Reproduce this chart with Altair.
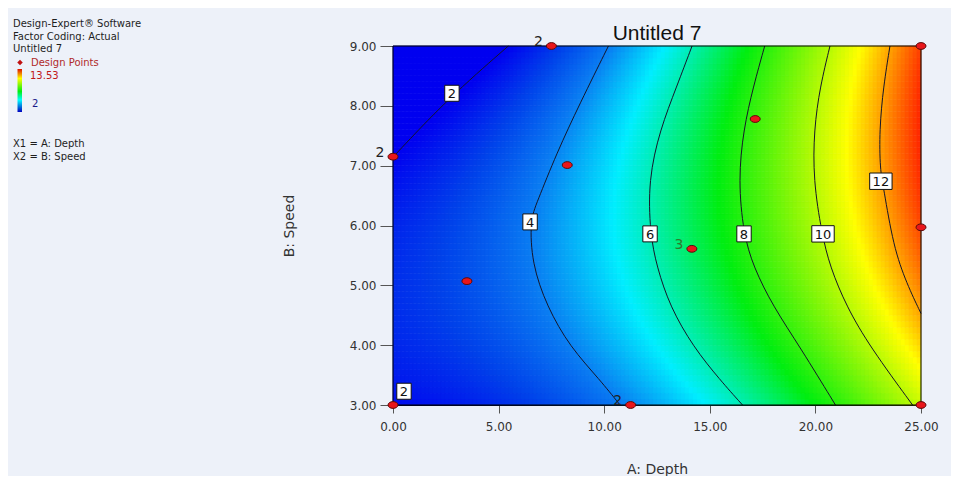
import numpy as np
import pandas as pd
import altair as alt

alt.data_transformers.disable_max_rows()

# ---------------- data ----------------
x_ticks = [0, 5, 10, 15, 20, 25]
y_ticks = [3, 4, 5, 6, 7, 8, 9]

# contour traces (A: Depth, B: Speed) for each contour level
c2_x = [0.02, 2.54, 5.46]
c2_y = [7.15, 8.10, 9.0]
c4_x = [10.2, 8.85, 7.75, 6.8, 6.49, 6.57, 7.28, 8.38, 9.80, 10.75]
c4_y = [9.0, 8.04, 7.21, 6.37, 6.09, 5.37, 4.65, 3.97, 3.42, 3.0]
c6_x = [14.16, 13.43, 12.64, 12.09, 12.17, 12.49, 13.12, 14.22, 15.48, 16.55]
c6_y = [9.0, 8.32, 7.6, 6.76, 5.87, 5.31, 4.64, 3.97, 3.42, 3.0]
c8_x = [17.6, 17.06, 16.59, 16.35, 16.59, 17.06, 18.01, 19.27, 20.95]
c8_y = [9.0, 8.32, 7.6, 6.76, 5.87, 5.31, 4.64, 3.97, 3.0]
c10_x = [20.69, 20.22, 19.93, 19.9, 20.3, 20.69, 21.48, 22.59, 24.6]
c10_y = [9.0, 8.32, 7.6, 6.76, 5.87, 5.31, 4.64, 3.97, 3.0]
c12_x = [23.53, 23.22, 23.03, 23.06, 23.22, 23.69, 24.32, 25.0]
c12_y = [9.0, 8.32, 7.6, 6.93, 6.65, 5.65, 5.03, 4.53]
contour_levels = [2, 4, 6, 8, 10, 12]
contour_x = [c2_x, c4_x, c6_x, c8_x, c10_x, c12_x]
contour_y = [c2_y, c4_y, c6_y, c8_y, c10_y, c12_y]

# contour label boxes
lab_x = [2.79, 0.52, 6.49, 12.17, 16.62, 20.36, 23.1]
lab_y = [8.21, 3.23, 6.06, 5.86, 5.86, 5.86, 6.74]
lab_t = ["2", "2", "4", "6", "8", "10", "12"]

# design points and replicate counts
dp_x = [0.0, 0.0, 7.5, 3.5, 8.25, 11.25, 14.15, 17.15, 25.0, 25.0, 25.0]
dp_y = [3.0, 7.15, 9.0, 5.07, 7.01, 3.0, 5.61, 7.78, 9.0, 5.97, 3.0]
dp_rep = ["", "2", "2", "", "", "2", "3", "", "", "", ""]

resp_min = 2.0
resp_max = 13.53

# ---------------- surface for the colour fill ----------------
px_, py_, pv_ = [], [], []
for lv, xs_, ys_ in zip(contour_levels, contour_x, contour_y):
    px_ += xs_
    py_ += ys_
    pv_ += [lv] * len(xs_)
px_ = np.array(px_); py_ = np.array(py_); pv_ = np.array(pv_, float)


def terms(x, y):
    u = (x - 12.5) / 12.5
    w = (y - 6.0) / 3.0
    return np.stack([np.ones_like(u), u, w, u * u, u * w, w * w,
                     u ** 3, u * u * w, u * w * w, w ** 3], axis=-1)


coef, *_ = np.linalg.lstsq(terms(px_, py_), pv_, rcond=None)

nx, ny = 132, 60
xe = np.linspace(0, 25, nx + 1)
ye = np.linspace(3, 9, ny + 1)
xc = (xe[:-1] + xe[1:]) / 2
yc = (ye[:-1] + ye[1:]) / 2
GX, GY = np.meshgrid(xc, yc)
GV = terms(GX, GY) @ coef
X0, Y0 = np.meshgrid(xe[:-1], ye[:-1])
X1, Y1 = np.meshgrid(xe[1:], ye[1:])
grid = pd.DataFrame({"x0": X0.ravel(), "x1": X1.ravel(), "y0": Y0.ravel(),
                     "y1": Y1.ravel(), "v": GV.ravel()})

lines = pd.DataFrame({
    "x": sum(contour_x, []),
    "y": sum(contour_y, []),
    "level": sum([[lv] * len(a) for lv, a in zip(contour_levels, contour_x)], []),
    "ord": sum([list(range(len(a))) for a in contour_x], []),
})
labels = pd.DataFrame({"x": lab_x, "y": lab_y, "t": lab_t})
labels["w"] = labels["t"].str.len()
points = pd.DataFrame({"x": dp_x, "y": dp_y, "rep": dp_rep})
frame = pd.DataFrame({"x0": [x_ticks[0]], "x1": [x_ticks[-1]],
                      "y0": [y_ticks[0]], "y1": [y_ticks[-1]]})
one = pd.DataFrame({"a": [0]})

# ---------------- styling ----------------
PLOT_LEFT, PLOT_TOP = 393, 46
W, H = 528, 359
SMALL = "DejaVu Sans"
ARIAL = "Liberation Sans"
BG = "#edf1f9"

xs = alt.Scale(domain=[0, 25], nice=False, zero=False)
ys = alt.Scale(domain=[3, 9], nice=False, zero=False)
xaxis = alt.Axis(values=x_ticks, format=".2f", title="A: Depth", tickSize=8,
                 labelPadding=8, labelFlush=False, titleX=W / 2, titleY=64,
                 titleBaseline="middle", titleFontSize=14, titleFontWeight="normal",
                 titleColor="#333", titleFont=SMALL)
yaxis = alt.Axis(values=y_ticks, format=".2f", title="B: Speed", tickSize=13,
                 labelPadding=4, labelFlush=False, titleX=-104, titleY=H / 2,
                 titleBaseline="middle", titleAngle=-90, titleFontSize=14,
                 titleFontWeight="normal", titleColor="#333", titleFont=SMALL)


def X(f):
    return alt.X(f, type="quantitative", scale=xs, axis=xaxis)


def Y(f):
    return alt.Y(f, type="quantitative", scale=ys, axis=yaxis)


cscale = alt.Scale(domain=[2.0, 3.0, 4.0, 5.3, 7.5, 11.0, 13.53],
                   range=["#0000f0", "#0040ea", "#0a7cf2", "#00eeff", "#00ee10",
                          "#ffff00", "#ff1a00"],
                   interpolate="rgb", clamp=True)

heat = alt.Chart(grid).mark_rect(strokeWidth=0.6).encode(
    x=X("x0"), x2="x1", y=Y("y0"), y2="y1",
    color=alt.Color("v:Q", scale=cscale, legend=None),
    stroke=alt.Stroke("v:Q", scale=cscale, legend=None),
)

clines = alt.Chart(lines).mark_line(color="#15152a", strokeWidth=1,
                                    interpolate="basis").encode(
    x=X("x"), y=Y("y"), detail="level:N", order="ord:Q")

border = alt.Chart(frame).mark_rect(filled=False, stroke="#000", strokeWidth=1).encode(
    x=X("x0"), x2="x1", y=Y("y0"), y2="y1")

box1 = alt.Chart(labels).transform_filter("datum.w == 1").mark_point(
    shape="M-0.72,-0.8L0.72,-0.8L0.72,0.8L-0.72,0.8Z", size=400, filled=True,
    fill="white", stroke="#111", strokeWidth=1, opacity=1).encode(x=X("x"), y=Y("y"))
box2 = alt.Chart(labels).transform_filter("datum.w == 2").mark_point(
    shape="M-1.12,-0.82L1.12,-0.82L1.12,0.82L-1.12,0.82Z", size=400, filled=True,
    fill="white", stroke="#111", strokeWidth=1, opacity=1).encode(x=X("x"), y=Y("y"))
boxtext = alt.Chart(labels).mark_text(font=SMALL, fontSize=13, color="#111",
                                      baseline="middle", dy=1).encode(
    x=X("x"), y=Y("y"), text="t:N")

dpts = alt.Chart(points).mark_point(
    shape="M-0.5,0A0.5,0.34 0 1,0 0.5,0A0.5,0.34 0 1,0 -0.5,0Z", size=400,
    filled=True, fill="#e8161b", stroke="#5a0a0a", strokeWidth=1, opacity=1).encode(
    x=X("x"), y=Y("y"))
reps = alt.Chart(points).transform_filter("datum.rep != ''").mark_text(
    font=SMALL, fontSize=14, baseline="middle", dx=-13, dy=-4).encode(
    x=X("x"), y=Y("y"), text="rep:N",
    color=alt.condition("datum.rep == '3'", alt.value("#2f7a2f"), alt.value("#222")))


def note(text, px, py, size=10, color="#1e1e1e", align="left", font=SMALL):
    return alt.Chart(one).mark_text(text=text, align=align, baseline="alphabetic",
                                    fontSize=size, color=color, font=font).encode(
        x=alt.value(px - PLOT_LEFT), y=alt.value(py - PLOT_TOP))


notes = [
    note("Untitled 7", 657, 40, size=21, color="#111", align="center", font=ARIAL),
    note("Design-Expert\u00ae Software", 13, 27),
    note("Factor Coding: Actual", 13, 39.5),
    note("Untitled 7", 13, 52),
    note("Design Points", 31, 65.5, color="#b02a2a"),
    note("13.53", 30, 79, color="#c01818"),
    note("2", 32, 106.5, color="#1a1a8a"),
    note("X1 = A: Depth", 13, 147),
    note("X2 = B: Speed", 13, 159.5),
]
diamond = alt.Chart(one).mark_point(shape="diamond", size=30, filled=True,
                                    color="#c01010", opacity=1).encode(
    x=alt.value(20 - PLOT_LEFT), y=alt.value(62.5 - PLOT_TOP))
cbar = alt.Chart(one).mark_rect(
    fill=alt.LinearGradient(gradient="linear", x1=0, x2=0, y1=1, y2=0, stops=[
        alt.GradientStop(color="#0000c0", offset=0),
        alt.GradientStop(color="#00ffff", offset=0.28),
        alt.GradientStop(color="#00ee10", offset=0.48),
        alt.GradientStop(color="#ffff00", offset=0.78),
        alt.GradientStop(color="#e01000", offset=1)])).encode(
    x=alt.value(17.5 - PLOT_LEFT), x2=alt.value(22 - PLOT_LEFT),
    y=alt.value(69 - PLOT_TOP), y2=alt.value(112 - PLOT_TOP))

chart = alt.layer(heat, clines, border, box1, box2, boxtext, dpts, reps,
                  diamond, cbar, *notes).properties(
    width=W, height=H,
    autosize=alt.AutoSizeParams(type="none"),
    padding={"left": PLOT_LEFT - 8, "top": PLOT_TOP - 8, "right": 30, "bottom": 71},
    background=BG,
).configure_view(stroke=None).configure_axis(
    grid=False, domainColor="#000", domainWidth=1, tickColor="#555", tickWidth=1,
    labelColor="#333", labelFont=SMALL, labelFontSize=12,
)

chart.save("out.html", embed_options={"renderer": "svg", "actions": False})
